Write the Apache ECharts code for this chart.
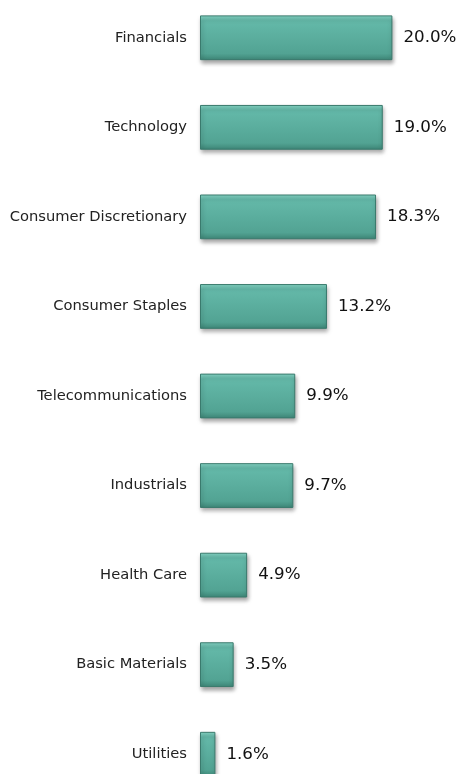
<!DOCTYPE html>
<html><head><meta charset="utf-8">
<script src="https://cdn.jsdelivr.net/npm/echarts@6/dist/echarts.min.js"></script>
<style>html,body{margin:0;padding:0;background:#fff}#c{width:461px;height:774px}</style>
</head><body><div id="c"></div>
<script>
const categories = ["Financials","Technology","Consumer Discretionary","Consumer Staples","Telecommunications","Industrials","Health Care","Basic Materials","Utilities"];
const values = [20.0,19.0,18.3,13.2,9.9,9.7,4.9,3.5,1.6];
const chart = echarts.init(document.getElementById('c'));
chart.setOption({
  animation:false,
  grid:{left:200,top:-7,right:20.5,bottom:-25,containLabel:false,outerBoundsMode:'none'},
  xAxis:{type:'value',min:0,max:25,show:false},
  yAxis:{type:'category',data:categories,inverse:true,
    axisLine:{show:false},axisTick:{show:false},
    axisLabel:{margin:13,fontFamily:'DejaVu Sans, Verdana, sans-serif',fontSize:14.7,color:'#222'}},
  series:[{type:'bar',data:values,barCategoryGap:'50%',
    itemStyle:{
      color:new echarts.graphic.LinearGradient(0,0,0,1,[
        {offset:0,color:'#86d6c6'},{offset:0.12,color:'#64b9a9'},{offset:0.85,color:'#52a393'},{offset:1,color:'#3d8576'}]),
      borderColor:'#3a7a6d',borderWidth:1,
      shadowColor:'rgba(0,0,0,0.35)',shadowBlur:4,shadowOffsetY:3,shadowOffsetX:1},
    label:{show:true,position:'right',distance:11,formatter:p=>p.value.toFixed(1)+'%',
      fontFamily:'DejaVu Sans, Verdana, sans-serif',fontSize:16.7,color:'#111'}}]
});
</script></body></html>
